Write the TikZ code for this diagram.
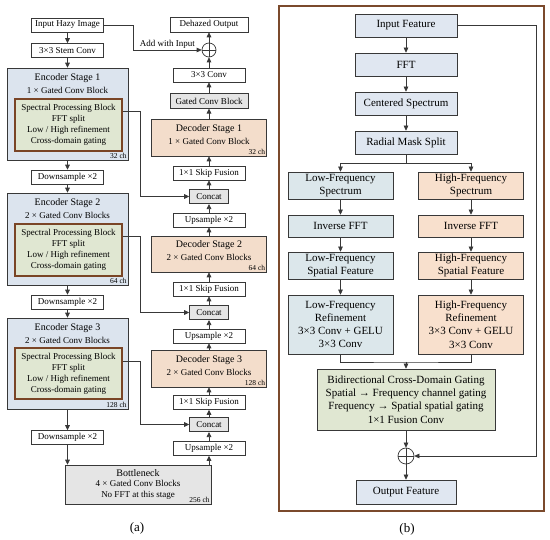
\documentclass[tikz,border=0pt]{standalone}
\usepackage{fontspec}
\setmainfont{Liberation Serif}
\usetikzlibrary{positioning, arrows.meta, calc}
\definecolor{edge}{HTML}{383838}
\definecolor{encblue}{HTML}{DCE4EE}
\definecolor{specgreen}{HTML}{E0E7D2}
\definecolor{specbrown}{HTML}{7A4526}
\definecolor{decpeach}{HTML}{F3DDCB}
\definecolor{boxgray}{HTML}{E5E5E5}
\definecolor{lowblue}{HTML}{DCE7EB}
\definecolor{highpeach}{HTML}{F8E0CD}
\definecolor{featblue}{HTML}{E0E7F1}
\definecolor{framebrown}{HTML}{7B4A2C}

\begin{document}
\begin{tikzpicture}[x=1pt, y=-1pt, >={Triangle[length=5pt, width=4.6pt]},
  blk/.style={draw=edge, line width=0.6pt, inner sep=0pt, align=center,
    font=\fontsize{9}{11}\selectfont},
  op/.style={blk, fill=white, minimum width=72pt, minimum height=14pt},
  grayop/.style={blk, fill=boxgray, minimum height=14.5pt},
  stage/.style={blk, fill=encblue, minimum width=121pt, minimum height=92pt},
  dstage/.style={blk, fill=decpeach, minimum width=115pt, minimum height=37pt},
  spec/.style={blk, draw=specbrown, line width=1.8pt, fill=specgreen,
    minimum width=107pt, minimum height=52pt},
  title/.style={align=center, inner sep=0pt, font=\fontsize{9}{13}\selectfont},
  chan/.style={inner sep=1.5pt, font=\fontsize{7.5}{8}\selectfont},
  plus/.style={circle, draw=edge, line width=0.7pt, fill=white, inner sep=0pt,
    minimum size=14pt, path picture={
      \draw[edge, line width=0.7pt]
        (path picture bounding box.north) -- (path picture bounding box.south)
        (path picture bounding box.west) -- (path picture bounding box.east);}},
  fbox/.style={draw=edge, line width=0.7pt, inner sep=0pt, align=center,
    font=\fontsize{11}{13.3}\selectfont, fill=featblue,
    minimum width=102pt, minimum height=23pt},
  lowbox/.style={fbox, fill=lowblue, minimum width=105pt},
  highbox/.style={fbox, fill=highpeach, minimum width=105pt},
  caption/.style={inner sep=0pt, font=\fontsize{13}{15}\selectfont},
  line/.style={draw=edge, line width=0.7pt}
]
\useasboundingbox (0,0) rectangle (550,540);

% (a) encoder column
\node[op] (in) at (67.5,25) {Input Hazy Image};
\node[op] (stem) at (67.5,50.5) {3×3 Stem Conv};
\node[stage] (enc1) at (67.5,114) {};
\node[title] (enc1t) at (67.5,83.5) {{\fontsize{10}{13}\selectfont Encoder Stage 1}\\1 × Gated Conv Block};
\node[spec] (spec1) at (68.5,125) {Spectral Processing Block\\FFT split\\Low / High refinement\\Cross-domain gating};
\node[chan, anchor=south east] (enc1c) at (enc1.south east) {32 ch};
\node[op] (down1) at (67.5,177) {Downsample ×2};
\node[stage] (enc2) at (67.5,239) {};
\node[title] (enc2t) at (67.5,208.5) {{\fontsize{10}{13}\selectfont Encoder Stage 2}\\2 × Gated Conv Blocks};
\node[spec] (spec2) at (68.5,250) {Spectral Processing Block\\FFT split\\Low / High refinement\\Cross-domain gating};
\node[chan, anchor=south east] (enc2c) at (enc2.south east) {64 ch};
\node[op] (down2) at (67.5,302) {Downsample ×2};
\node[stage, minimum height=91pt] (enc3) at (67.5,363.5) {};
\node[title] (enc3t) at (67.5,333.5) {{\fontsize{10}{13}\selectfont Encoder Stage 3}\\2 × Gated Conv Blocks};
\node[spec, minimum height=51pt] (spec3) at (68.5,373.5) {Spectral Processing Block\\FFT split\\Low / High refinement\\Cross-domain gating};
\node[chan, anchor=south east] (enc3c) at (enc3.south east) {128 ch};
\node[op] (down3) at (67.5,437.5) {Downsample ×2};
\node[blk, fill=boxgray, minimum width=146pt, minimum height=39pt,
  font=\fontsize{9}{10.5}\selectfont] (bott) at (138,484.5)
  {{\fontsize{10}{10.5}\selectfont Bottleneck}\\4 × Gated Conv Blocks\\No FFT at this stage};
\node[chan, anchor=south east] (bottc) at (bott.south east) {256 ch};

% (a) decoder column
\node[op, minimum width=78pt, minimum height=15pt] (out) at (209,24.5) {Dehazed Output};
\node[plus] (add) at (209,50) {};
\node[op] (conv3) at (209,75) {3×3 Conv};
\node[grayop, minimum width=78pt] (gated) at (209,101) {Gated Conv Block};
\node[dstage] (dec1) at (209,137.5) {};
\node[title] (dec1t) at ([yshift=3pt]dec1.center) {{\fontsize{10}{13}\selectfont Decoder Stage 1}\\1 × Gated Conv Block};
\node[chan, anchor=south east] (dec1c) at (dec1.south east) {32 ch};
\node[op] (skip1) at (209,173) {1×1 Skip Fusion};
\node[grayop, minimum width=39pt] (cat1) at (209,196.5) {Concat};
\node[op] (up1) at (209,220) {Upsample ×2};
\node[dstage, minimum height=36pt] (dec2) at (209,254) {};
\node[title] (dec2t) at ([yshift=3pt]dec2.center) {{\fontsize{10}{13}\selectfont Decoder Stage 2}\\2 × Gated Conv Blocks};
\node[chan, anchor=south east] (dec2c) at (dec2.south east) {64 ch};
\node[op] (skip2) at (209,289) {1×1 Skip Fusion};
\node[grayop, minimum width=39pt] (cat2) at (209,312.5) {Concat};
\node[op] (up2) at (209,336) {Upsample ×2};
\node[dstage] (dec3) at (209,368.5) {};
\node[title] (dec3t) at ([yshift=3pt]dec3.center) {{\fontsize{10}{13}\selectfont Decoder Stage 3}\\2 × Gated Conv Blocks};
\node[chan, anchor=south east] (dec3c) at (dec3.south east) {128 ch};
\node[op] (skip3) at (209,402.5) {1×1 Skip Fusion};
\node[grayop, minimum width=39pt] (cat3) at (209,424.5) {Concat};
\node[op] (up3) at (209,448.5) {Upsample ×2};

\draw[line, ->] (in) -- (stem);
\draw[line, ->] (stem) -- (enc1);
\draw[line, ->] (enc1) -- (down1);
\draw[line, ->] (down1) -- (enc2);
\draw[line, ->] (enc2) -- (down2);
\draw[line, ->] (down2) -- (enc3);
\draw[line, ->] (enc3) -- (down3);
\draw[line, ->] (down3.south) -- (down3.south |- bott.north);
\draw[line, ->] (up3.south |- bott.north) -- (up3.south);
\draw[line, ->] (up3) -- (cat3);
\draw[line, ->] (cat3) -- (skip3);
\draw[line, ->] (skip3) -- (dec3);
\draw[line, ->] (dec3) -- (up2);
\draw[line, ->] (up2) -- (cat2);
\draw[line, ->] (cat2) -- (skip2);
\draw[line, ->] (skip2) -- (dec2);
\draw[line, ->] (dec2) -- (up1);
\draw[line, ->] (up1) -- (cat1);
\draw[line, ->] (cat1) -- (skip1);
\draw[line, ->] (skip1) -- (dec1);
\draw[line, ->] (dec1) -- (gated);
\draw[line, ->] (gated) -- (conv3);
\draw[line, ->] (conv3) -- (add);
\draw[line, ->] (add) -- (out);
\draw[line, ->] ([yshift=-13pt]spec1.north east) -- ++(17,0) |- (cat1.west);
\draw[line, ->] ([yshift=-13pt]spec2.north east) -- ++(17,0) |- (cat2.west);
\draw[line, ->] ([yshift=-14pt]spec3.north east) -- ++(17,0) |- (cat3.west);
\draw[line, ->] (in.east) -- (133,25) |- (add.west)
  node[pos=0.75, above=1pt, inner sep=0pt, font=\fontsize{9}{11}\selectfont] (addlbl) {Add with Input};
\node[caption] (capa) at (137,528) {(a)};

% (b) spectral processing block
\draw[framebrown, line width=1.4pt] (279,6) rectangle (544,511);
\node[fbox] (feat) at (406,25.5) {Input Feature};
\node[fbox] (fft) at (406,64.5) {FFT};
\node[fbox] (cent) at (406,103.5) {Centered Spectrum};
\node[fbox] (mask) at (406,142.5) {Radial Mask Split};
\node[lowbox, minimum height=27pt] (lspec) at (340.5,185.5) {Low-Frequency\\Spectrum};
\node[highbox, minimum height=27pt] (hspec) at (471,185.5) {High-Frequency\\Spectrum};
\node[lowbox, minimum height=22pt] (lifft) at (340.5,226) {Inverse FFT};
\node[highbox, minimum height=22pt] (hifft) at (471,226) {Inverse FFT};
\node[lowbox, minimum height=27pt] (lspat) at (340.5,265.5) {Low-Frequency\\Spatial Feature};
\node[highbox, minimum height=27pt] (hspat) at (471,265.5) {High-Frequency\\Spatial Feature};
\node[lowbox, minimum height=59pt] (lref) at (340.5,324.5) {Low-Frequency\\Refinement\\3×3 Conv + GELU\\3×3 Conv};
\node[highbox, minimum height=59pt] (href) at (471,324.5) {High-Frequency\\Refinement\\3×3 Conv + GELU\\3×3 Conv};
\node[fbox, fill=specgreen, minimum width=178pt, minimum height=61pt] (gate) at (406,399.5)
  {Bidirectional Cross-Domain Gating\\Spatial → Frequency channel gating\\Frequency → Spatial spatial gating\\1×1 Fusion Conv};
\node[plus, minimum size=16pt] (badd) at (406,456) {};
\node[fbox, minimum width=100pt, minimum height=24pt] (ofeat) at (406,492) {Output Feature};

\draw[line, ->] (feat) -- (fft);
\draw[line, ->] (fft) -- (cent);
\draw[line, ->] (cent) -- (mask);
\draw[line] (mask.south) -- (406,163);
\draw[line, ->] (406,163) -| (lspec.north);
\draw[line, ->] (406,163) -| (hspec.north);
\draw[line, ->] (lspec) -- (lifft);
\draw[line, ->] (hspec) -- (hifft);
\draw[line, ->] (lifft) -- (lspat);
\draw[line, ->] (hifft) -- (hspat);
\draw[line, ->] (lspat) -- (lref);
\draw[line, ->] (hspat) -- (href);
\draw[line] (lref.south) |- (406,362) -| (href.south);
\draw[line, ->] (406,362) -- (gate.north);
\draw[line, ->] (gate) -- (badd);
\draw[line, ->] (badd) -- (ofeat);
\draw[line, ->] (feat.east) -- (536,25.5) |- (badd.east);
\node[caption] (capb) at (407,529) {(b)};
\end{tikzpicture}
\end{document}
